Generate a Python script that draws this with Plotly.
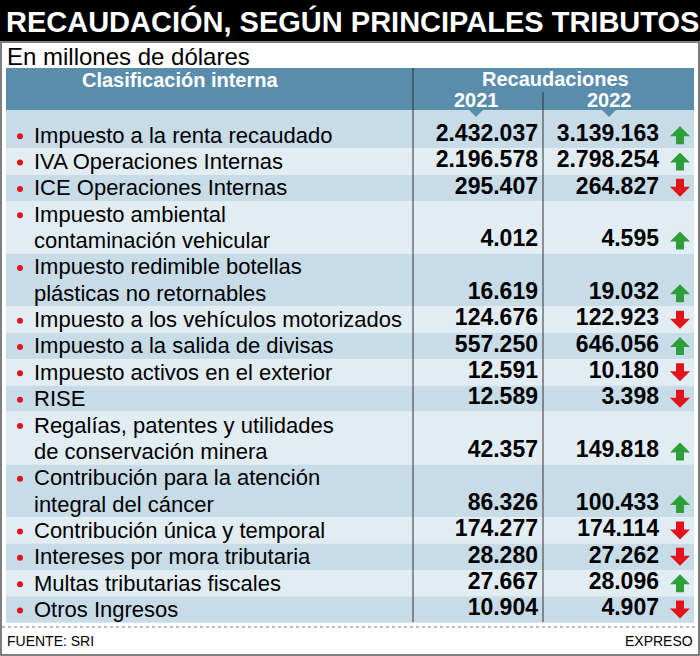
import plotly.graph_objects as go

labels = [
    ["Impuesto a la renta recaudado"],
    ["IVA Operaciones Internas"],
    ["ICE Operaciones Internas"],
    ["Impuesto ambiental", "contaminación vehicular"],
    ["Impuesto redimible botellas", "plásticas no retornables"],
    ["Impuesto a los vehículos motorizados"],
    ["Impuesto a la salida de divisas"],
    ["Impuesto activos en el exterior"],
    ["RISE"],
    ["Regalías, patentes y utilidades", "de conservación minera"],
    ["Contribución para la atención", "integral del cáncer"],
    ["Contribución única y temporal"],
    ["Intereses por mora tributaria"],
    ["Multas tributarias fiscales"],
    ["Otros Ingresos"],
]
v2021 = ["2.432.037", "2.196.578", "295.407", "4.012", "16.619", "124.676", "557.250",
         "12.591", "12.589", "42.357", "86.326", "174.277", "28.280", "27.667", "10.904"]
v2022 = ["3.139.163", "2.798.254", "264.827", "4.595", "19.032", "122.923", "646.056",
         "10.180", "3.398", "149.818", "100.433", "174.114", "27.262", "28.096", "4.907"]
trend = ["up", "up", "down", "up", "up", "down", "up", "down", "down", "up", "up",
         "down", "down", "up", "down"]

FONT = "Liberation Sans, Arial, sans-serif"
fig = go.Figure()
shapes = []
ann = []

shapes.append(dict(type="rect", x0=0, x1=700, y0=0, y1=41, fillcolor="black", line_width=0))
shapes.append(dict(type="rect", x0=1, x1=699, y0=42, y1=655, line=dict(color="#555", width=1.5)))
ann.append(dict(x=4, y=21, text="<b>RECAUDACIÓN, SEGÚN PRINCIPALES TRIBUTOS</b>", xanchor="left",
                font=dict(size=29, color="white", family=FONT)))
ann.append(dict(x=5, y=56, text="En millones de dólares", xanchor="left",
                font=dict(size=24, color="black", family=FONT)))
shapes.append(dict(type="rect", x0=6, x1=694, y0=68, y1=110, fillcolor="#5a8dab", line_width=0))
ann.append(dict(x=180, y=80, text="<b>Clasificación interna</b>", font=dict(size=20, color="white", family=FONT)))
ann.append(dict(x=555, y=79, text="<b>Recaudaciones</b>", font=dict(size=20, color="white", family=FONT)))
ann.append(dict(x=476, y=100, text="<b>2021</b>", font=dict(size=20, color="white", family=FONT)))
ann.append(dict(x=609, y=100, text="<b>2022</b>", font=dict(size=20, color="white", family=FONT)))

unit = 26.35
y = 110
tops = []
for i, lab in enumerate(labels):
    h = unit * len(lab) + (12 if i == 0 else 0)
    fill = "#c8dce8" if i % 2 == 0 else "#e2edf3"
    shapes.append(dict(type="rect", x0=6, x1=694, y0=y, y1=y + h, fillcolor=fill, line_width=0, layer="below"))
    bottom = y + h
    for j, t in enumerate(lab):
        ty = bottom - unit * (len(lab) - j) + unit / 2
        ann.append(dict(x=32, y=ty, text=t, xanchor="left",
                        font=dict(size=22, color="black", family=FONT)))
    first_y = bottom - unit * len(lab) + unit / 2
    shapes.append(dict(type="circle", x0=17, x1=23, y0=first_y - 2, y1=first_y + 4,
                       fillcolor="#e0141a", line_width=0))
    tops.append(bottom - unit / 2)
    y = bottom

for cx in (476, 609):
    shapes.append(dict(type="path", path=f"M {cx-8} 109 L {cx+8} 109 L {cx} 117 Z",
                       fillcolor="#5a8dab", line_width=0))
shapes.append(dict(type="line", x0=413, x1=413, y0=68, y1=622, line=dict(color="#333", width=1)))
shapes.append(dict(type="line", x0=543, x1=543, y0=92, y1=622, line=dict(color="#333", width=1)))
shapes.append(dict(type="line", x0=2, x1=698, y0=627, y1=627, line=dict(color="#777", width=1, dash="dot")))
ann.append(dict(x=5, y=641, text="FUENTE: SRI", xanchor="left", font=dict(size=14, color="black", family=FONT)))
ann.append(dict(x=695, y=641, text="EXPRESO", xanchor="right", font=dict(size=14, color="black", family=FONT)))

for ty, t in zip(tops, trend):
    cx = 680
    if t == "up":
        p = (f"M {cx} {ty-9} L {cx+10} {ty+1} L {cx+4} {ty+1} L {cx+4} {ty+9} "
             f"L {cx-4} {ty+9} L {cx-4} {ty+1} L {cx-10} {ty+1} Z")
        col = "#2e9e3a"
    else:
        p = (f"M {cx} {ty+9} L {cx+10} {ty-1} L {cx+4} {ty-1} L {cx+4} {ty-9} "
             f"L {cx-4} {ty-9} L {cx-4} {ty-1} L {cx-10} {ty-1} Z")
        col = "#e0141a"
    shapes.append(dict(type="path", path=p, fillcolor=col, line_width=0))

fig.add_trace(go.Scatter(x=[538] * len(v2021), y=tops, mode="text", text=[f"<b>{v}</b>" for v in v2021],
                         textposition="middle left", textfont=dict(size=23, color="black", family=FONT),
                         hoverinfo="skip"))
fig.add_trace(go.Scatter(x=[659] * len(v2022), y=tops, mode="text", text=[f"<b>{v}</b>" for v in v2022],
                         textposition="middle left", textfont=dict(size=23, color="black", family=FONT),
                         hoverinfo="skip"))

for a in ann:
    a.update(xref="x", yref="y", showarrow=False)
fig.update_layout(width=700, height=656, margin=dict(l=0, r=0, t=0, b=0), paper_bgcolor="white",
                  plot_bgcolor="white", showlegend=False, shapes=shapes, annotations=ann,
                  xaxis=dict(range=[0, 700], visible=False, fixedrange=True),
                  yaxis=dict(range=[656, 0], visible=False, fixedrange=True))
fig.write_html("out.html", config={"displayModeBar": False},
               post_script="document.body.style.margin='0';document.body.style.overflow='hidden';")
